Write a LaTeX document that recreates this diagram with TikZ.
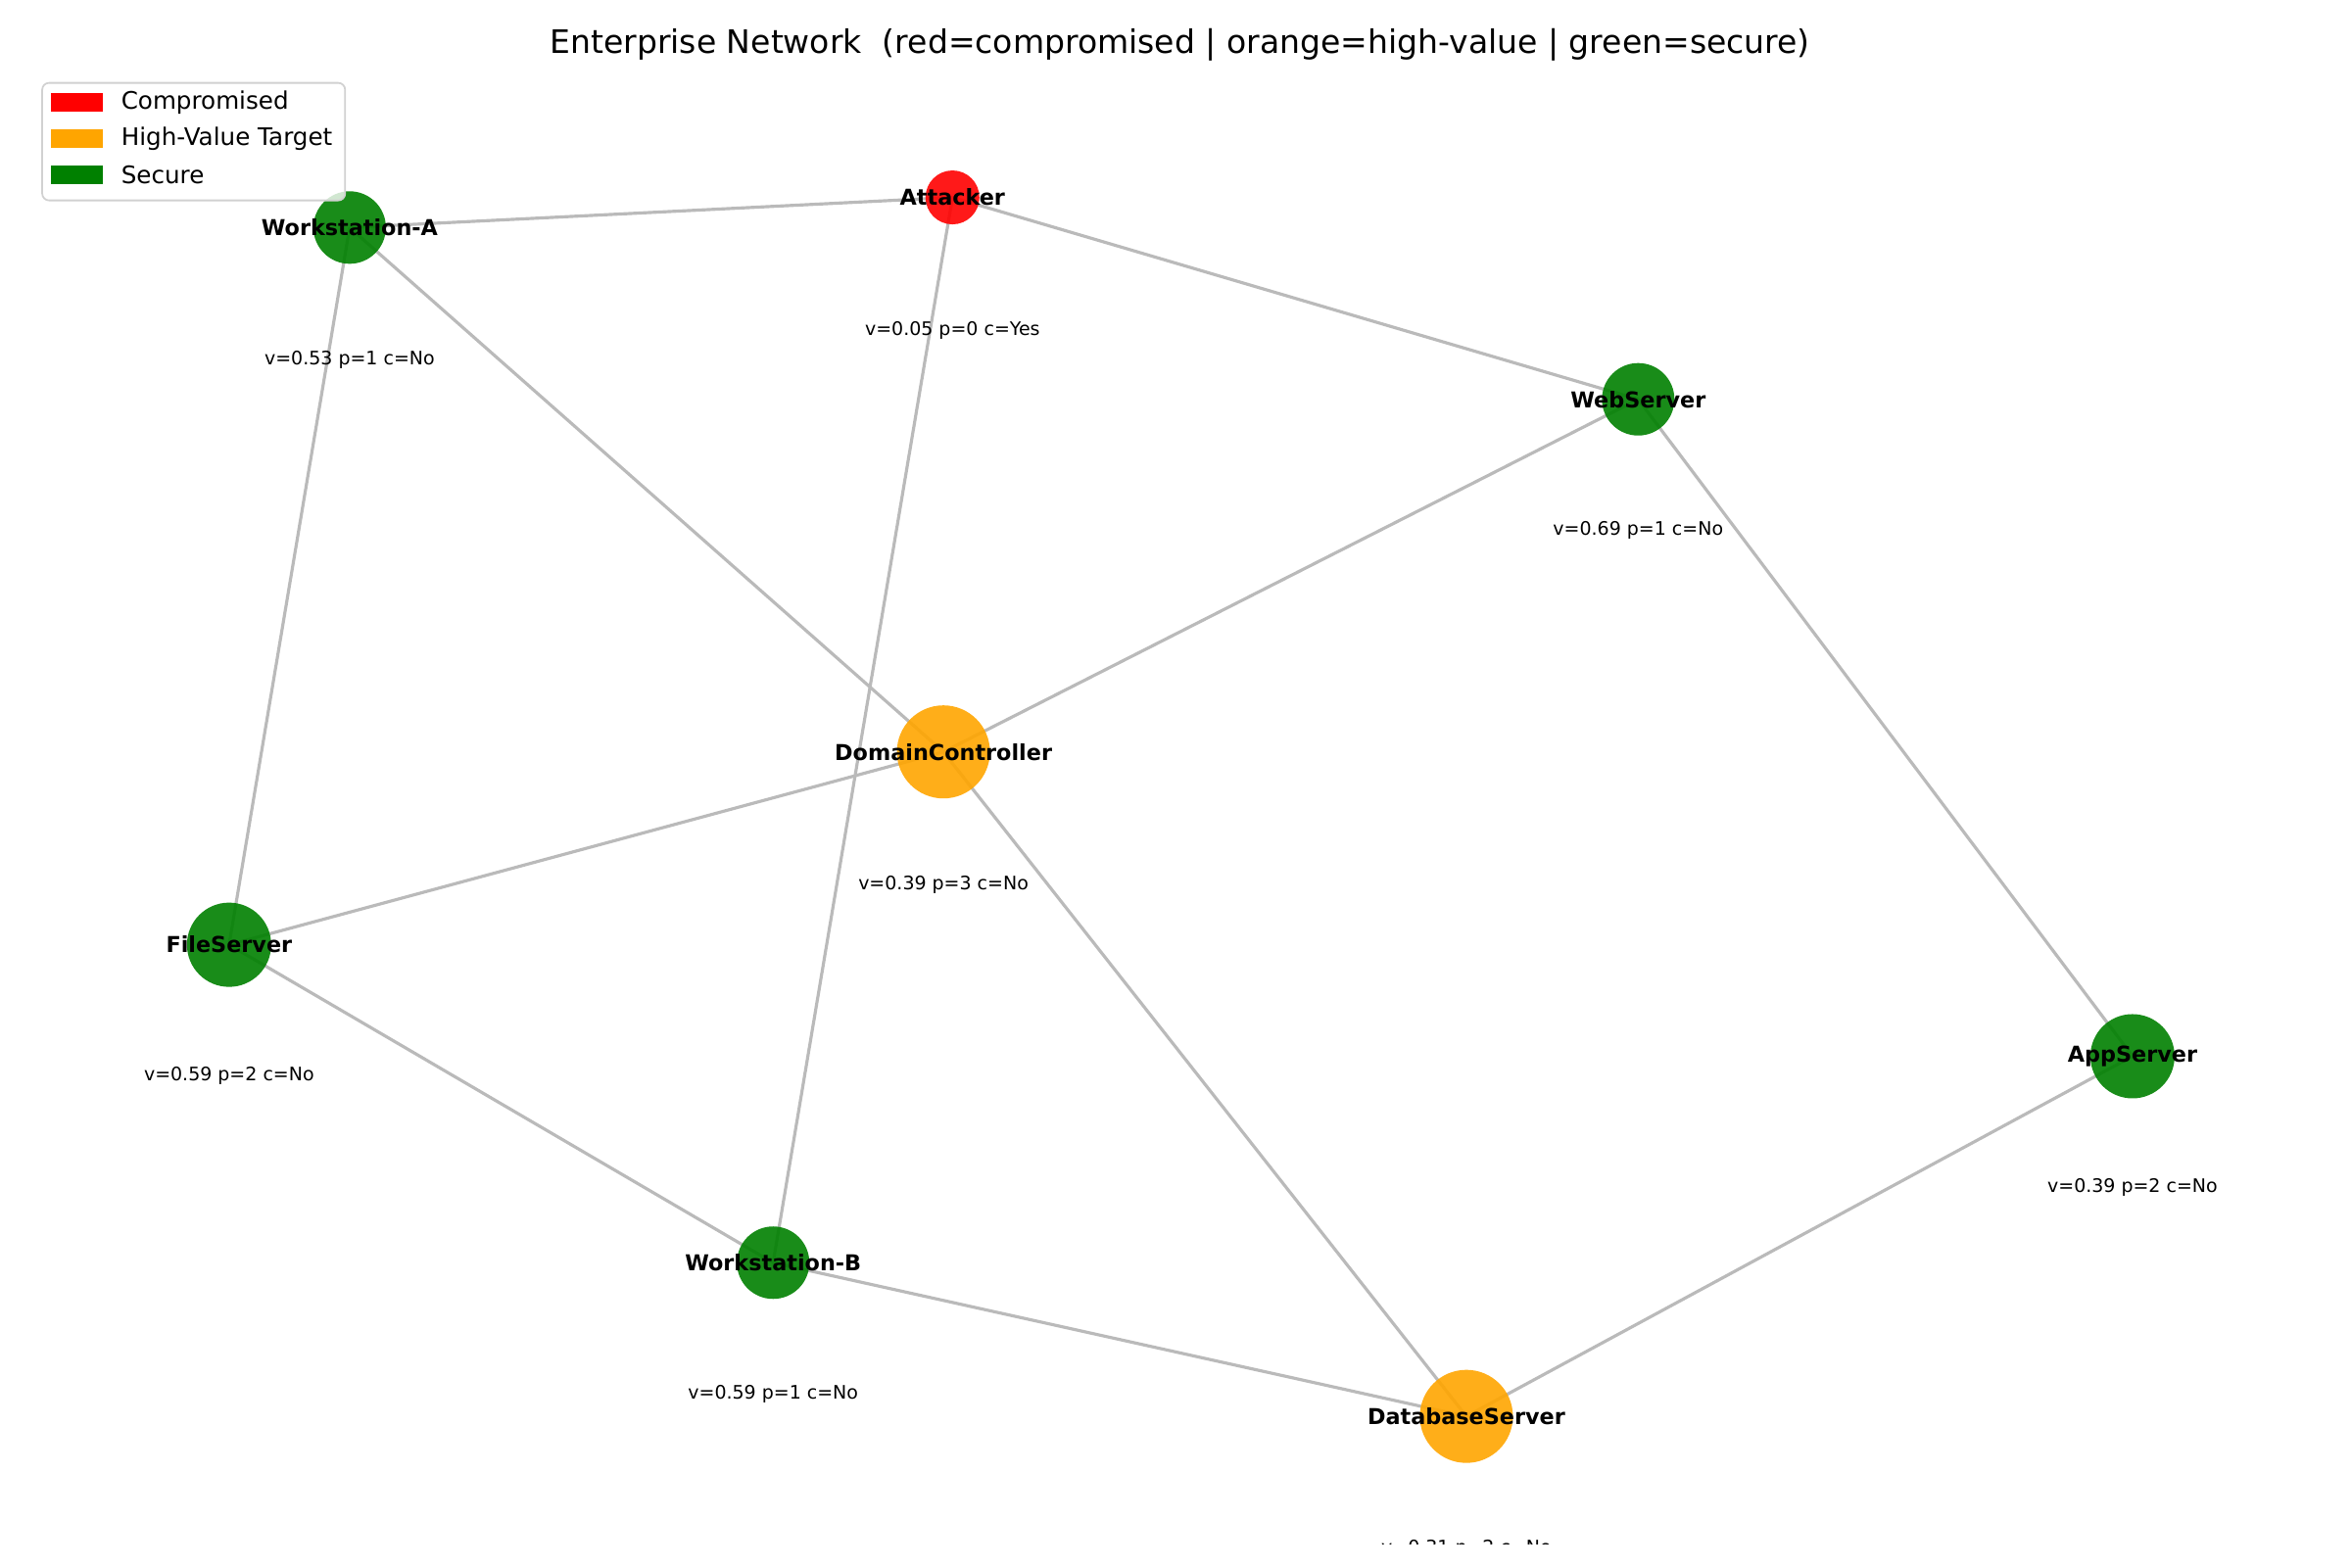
\documentclass[tikz,border=0pt]{standalone}
\usepackage{fontspec}
\setmainfont{DejaVu Sans}
\pgfdeclarelayer{background}
\pgfsetlayers{background,main}
\begin{document}
\begin{tikzpicture}[x=0.015385cm,y=-0.015385cm]
      \tikzstyle{every node}+=[inner sep=0pt]
      \tikzstyle{hname}=[font=\fontsize{6.35}{7}\selectfont\bfseries, fill opacity=1, text opacity=1, inner sep=0pt]
      \tikzstyle{host}=[circle, draw=none, fill opacity=0.9, label={[hname]center:#1}]
      \tikzstyle{info}=[font=\fontsize{5.4}{6}\selectfont]
      \tikzstyle{link}=[draw=black!27, line width=0.9pt]
      \definecolor{cred}{RGB}{255,0,0}
      \definecolor{corange}{RGB}{255,165,0}
      \definecolor{cgreen}{RGB}{0,128,0}
      \useasboundingbox (0,0) rectangle (1560,1040);
      % hosts
      \node [host=Attacker, fill=cred, minimum size=0.55cm] (attacker) at (632,131) {};
      \node [host=Workstation-A, fill=cgreen, minimum size=0.74cm] (wsa) at (232,151) {};
      \node [host=WebServer, fill=cgreen, minimum size=0.74cm] (web) at (1087,265) {};
      \node [host=DomainController, fill=corange, minimum size=0.95cm] (dc) at (626,499) {};
      \node [host=FileServer, fill=cgreen, minimum size=0.86cm] (file) at (152,627) {};
      \node [host=AppServer, fill=cgreen, minimum size=0.86cm] (app) at (1415,701) {};
      \node [host=Workstation-B, fill=cgreen, minimum size=0.74cm] (wsb) at (513,838) {};
      \node [host=DatabaseServer, fill=corange, minimum size=0.95cm] (db) at (973,940) {};
      % links
      \begin{pgfonlayer}{background}
      \foreach \a/\b in {attacker/wsa, attacker/web, attacker/wsb, wsa/dc, wsa/file, web/dc, web/app, dc/file, dc/db, file/wsb, wsb/db, app/db}
        \draw [link] (\a.center) -- (\b.center);
      \end{pgfonlayer}
      % info labels
      \node [info] (iattacker) at (632,219) {v=0.05 p=0 c=Yes};
      \node [info] (iwsa) at (232,239) {v=0.53 p=1 c=No};
      \node [info] (iweb) at (1087,352) {v=0.69 p=1 c=No};
      \node [info] (idc) at (626,587) {v=0.39 p=3 c=No};
      \node [info] (ifile) at (152,714) {v=0.59 p=2 c=No};
      \node [info] (iapp) at (1415,788) {v=0.39 p=2 c=No};
      \node [info] (iwsb) at (513,925) {v=0.59 p=1 c=No};
      \begin{scope}
      \clip (0,0) rectangle (1560,1025);
      \node [info] (idb) at (973,1028) {v=0.31 p=2 c=No};
      \end{scope}
      % title
      \node [font=\fontsize{9.4}{11}\selectfont] (title) at (783,30) {Enterprise Network\ \ (red=compromised | orange=high-value | green=secure)};
      % legend
      \draw [black!18, fill=white, fill opacity=0.8, rounded corners=2, line width=0.5pt] (28,55) rectangle (229,133);
      \foreach \c/\t/\y in {cred/Compromised/68, corange/High-Value Target/92, cgreen/Secure/116} {
        \fill [\c] (34,\y-6) rectangle (68,\y+6);
        \node [anchor=west, font=\fontsize{7}{8}\selectfont] at (80,\y) {\t};
      }
\end{tikzpicture}
\end{document}
